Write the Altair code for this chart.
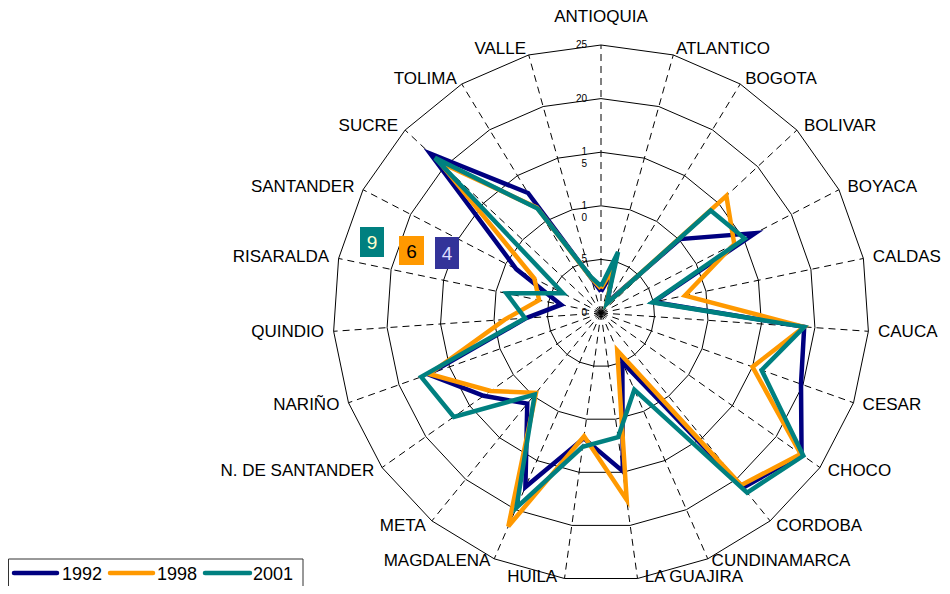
import altair as alt
import pandas as pd

# ---------------- data ----------------
categories = ["ANTIOQUIA", "ATLANTICO", "BOGOTA", "BOLIVAR", "BOYACA", "CALDAS",
              "CAUCA", "CESAR", "CHOCO", "CORDOBA", "CUNDINAMARCA", "LA GUAJIRA",
              "HUILA", "MAGDALENA", "META", "N. DE SANTANDER", "NARIÑO", "QUINDIO",
              "RISARALDA", "SANTANDER", "SUCRE", "TOLIMA", "VALLE"]
series_names = ["1992", "1998", "2001"]
v1992 = [2.0, 4.0, 1.2, 10.1, 16.2, 5.0, 19.0, 19.8, 22.9, 21.0, 5.0, 14.9,
         11.8, 17.7, 10.9, 13.4, 17.1, 7.0, 3.8, 8.9, 21.8, 13.1, 3.4]
v1998 = [2.3, 4.5, 1.0, 16.0, 14.0, 8.0, 19.0, 15.0, 22.8, 20.7, 3.8, 17.6,
         11.6, 21.7, 9.6, 12.6, 17.0, 9.0, 5.9, 7.0, 20.6, 11.5, 3.4]
v2001 = [2.5, 5.9, 1.0, 14.0, 15.1, 4.9, 19.0, 15.9, 23.1, 21.6, 7.8, 11.7,
         12.6, 19.8, 9.8, 16.8, 17.8, 7.1, 9.0, 4.0, 21.2, 11.4, 3.5]
ring_values = [5, 10, 15, 20, 25]
tick_values = [0, 5, 10, 15, 20, 25]
tick_labels = ["0", "5", "1\n0", "1\n5", "20", "25"]
badge_labels = ["9", "6", "4"]

colors = ["#000080", "#FF9900", "#008080"]
N = len(categories)
RMAX = max(ring_values)

# ---------------- layout ----------------
W, H = 934, 578
S = 10.72            # px per unit
CX, CY = 593, 305    # centre in chart px
XD = [-CX / S, (W - CX) / S]
YD = [-(H - CY) / S, CY / S]
xs = alt.Scale(domain=XD, nice=False, zero=False)
ys = alt.Scale(domain=YD, nice=False, zero=False)
ANG = f"2*PI*datum.idx/{N}"

# ---------------- tables ----------------
series_rows = []
for s, vals in zip(series_names, [v1992, v1998, v2001]):
    for i in range(N + 1):
        series_rows.append({"series": s, "idx": i, "value": vals[i % N]})
series_df = pd.DataFrame(series_rows)

ring_rows = [{"ring": r, "idx": i} for r in ring_values for i in range(N + 1)]
ring_df = pd.DataFrame(ring_rows)

cat_df = pd.DataFrame({"cat": categories, "idx": list(range(N))})
tick_df = pd.DataFrame({"value": tick_values, "label": tick_labels})

# ---------------- layers ----------------
rings = alt.Chart(ring_df).transform_calculate(
    x=f"datum.ring*sin({ANG})", y=f"datum.ring*cos({ANG})"
).mark_line(stroke="black", strokeWidth=1).encode(
    x=alt.X("x:Q", scale=xs, axis=None),
    y=alt.Y("y:Q", scale=ys, axis=None),
    detail="ring:N",
    order="idx:Q",
)

spokes = alt.Chart(cat_df).transform_calculate(
    x0="0", y0="0",
    x1=f"{RMAX}*sin({ANG})", y1=f"{RMAX}*cos({ANG})"
).mark_rule(stroke="black", strokeWidth=1, strokeDash=[7, 5]).encode(
    x=alt.X("x0:Q", scale=xs, axis=None),
    y=alt.Y("y0:Q", scale=ys, axis=None),
    x2="x1:Q", y2="y1:Q",
)

ticks = alt.Chart(tick_df).transform_calculate(x0="0").mark_text(
    align="right", baseline="middle", fontSize=10, font="Liberation Sans",
    lineBreak="\n", lineHeight=12, dx=-14, color="black"
).encode(
    x=alt.X("x0:Q", scale=xs, axis=None),
    y=alt.Y("value:Q", scale=ys, axis=None),
    text="label:N",
)

# label placement: bottom-most pair sits further out sideways and a bit higher
BOTTOM = "(abs(sin(datum.a)) < 0.2 && cos(datum.a) < 0)"
LX = f"({BOTTOM} ? 30 : 25.9)*sin(datum.a)"
LY = (f"({BOTTOM} ? 24.9 : (abs(sin(datum.a)) <= 0.01 ? 27.6 : "
      "(cos(datum.a) < -0.9 ? 25.2 : 25.6)))*cos(datum.a)")


def cat_layer(filt, align):
    return alt.Chart(cat_df).transform_calculate(
        a=ANG
    ).transform_filter(filt).transform_calculate(
        lx=LX, ly=LY
    ).mark_text(
        align=align, baseline="middle", fontSize=17, font="Liberation Sans", color="black"
    ).encode(
        x=alt.X("lx:Q", scale=xs, axis=None),
        y=alt.Y("ly:Q", scale=ys, axis=None),
        text="cat:N",
    )


lab_right = cat_layer("sin(datum.a) > 0.01", "left")
lab_left = cat_layer("sin(datum.a) < -0.01", "right")
lab_top = cat_layer("abs(sin(datum.a)) <= 0.01", "center")

line_layers = []
for s, c in zip(series_names, colors):
    line_layers.append(
        alt.Chart(series_df).transform_filter(f"datum.series == '{s}'").transform_calculate(
            x=f"datum.value*sin({ANG})", y=f"datum.value*cos({ANG})"
        ).mark_line(strokeWidth=4.5, strokeJoin="miter", color=c).encode(
            x=alt.X("x:Q", scale=xs, axis=None),
            y=alt.Y("y:Q", scale=ys, axis=None),
            order="idx:Q",
        )
    )

# badges
badge_specs = [
    (badge_labels[0], "#008080", "#FFFFCC", (352, 376, 219, 249)),
    (badge_labels[1], "#FF9900", "#000000", (391, 416, 228, 257)),
    (badge_labels[2], "#333399", "#DDDDFF", (427, 451, 229, 261)),
]
badge_layers = []
for lab, fill, tc, (x1, x2, y1, y2) in badge_specs:
    bdf = pd.DataFrame({"label": [lab]})
    badge_layers.append(alt.Chart(bdf).mark_rect(fill=fill).encode(
        x=alt.value(x1), x2=alt.value(x2), y=alt.value(y1), y2=alt.value(y2)))
    badge_layers.append(alt.Chart(bdf).mark_text(
        fontSize=19, font="Liberation Sans", color=tc, align="center", baseline="middle"
    ).encode(x=alt.value((x1 + x2) / 2), y=alt.value((y1 + y2) / 2 + 1), text="label:N"))

# legend
leg_df = pd.DataFrame({"label": ["legend"]})
legend_layers = [alt.Chart(leg_df).mark_rect(fill="white", stroke="#333333", strokeWidth=1).encode(
    x=alt.value(0.5), x2=alt.value(295), y=alt.value(551), y2=alt.value(620))]
leg_pos = [(6, 49, 54), (102, 145, 149), (197, 242, 245)]
for s, c, (lx1, lx2, tx) in zip(series_names, colors, leg_pos):
    ldf = pd.DataFrame({"series": [s]})
    legend_layers.append(alt.Chart(ldf).mark_rule(
        color=c, strokeWidth=4.5, strokeCap="round"
    ).encode(x=alt.value(lx1), x2=alt.value(lx2), y=alt.value(565)))
    legend_layers.append(alt.Chart(ldf).mark_text(
        fontSize=18, font="Liberation Sans", color="black", align="left", baseline="middle"
    ).encode(x=alt.value(tx), y=alt.value(567), text="series:N"))

chart = alt.layer(
    rings, spokes, ticks, lab_right, lab_left, lab_top,
    *line_layers, *badge_layers, *legend_layers
).properties(
    width=W, height=H, padding=0,
    autosize=alt.AutoSizeParams(type="none"),
).configure_view(stroke=None)

chart.save("out.html", embed_options={"renderer": "svg", "actions": False})
